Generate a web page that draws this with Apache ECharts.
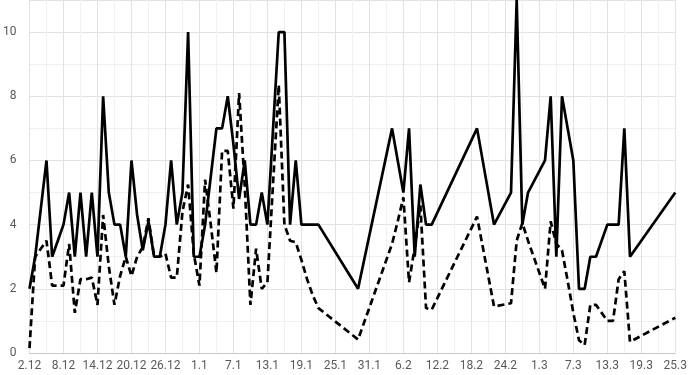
<!DOCTYPE html>
<html>
<head>
<meta charset="utf-8">
<script src="https://cdn.jsdelivr.net/npm/echarts@6/dist/echarts.min.js"></script>
<style>
html,body{margin:0;padding:0;background:#fff;}
#chart{width:690px;height:375px;}
</style>
</head>
<body>
<div id="chart"></div>
<script>
// dates as day.month (Dec 2019 – Mar 2020)
const dates = ['2.12','3.12','4.12','5.12','6.12','7.12','8.12','9.12','10.12','11.12',
  '12.12','13.12','14.12','15.12','16.12','17.12','18.12','19.12','20.12','21.12',
  '22.12','23.12','24.12','25.12','26.12','27.12','28.12','29.12','30.12','31.12',
  '1.1','2.1','3.1','4.1','5.1','6.1','7.1','8.1','9.1','10.1',
  '11.1','12.1','13.1','14.1','15.1','16.1','17.1','18.1','19.1','20.1',
  '21.1','22.1','29.1',
  '4.2','5.2','6.2','7.2','8.2','9.2','10.2','11.2','19.2','22.2',
  '25.2','26.2','27.2','28.2',
  '2.3','3.3','4.3','5.3','6.3','7.3','8.3','9.3','10.3','11.3',
  '13.3','14.3','15.3','16.3','17.3','25.3'];

const solidValues = [2,3,4.5,6,3,3.5,4,5,3,5,
  3,5,3,8,5,4,4,3,6,4.3,
  3.2,4.1,3,3,4,6,4,5,10,3,
  3,4,5.5,7,7,8,6.5,4.8,6,4,
  4,5,4,7,10,10,4,6,4,4,
  4,4,2,
  7,6,5,7,3,5.25,4,4,7,4,
  5,11,4,5,
  6,8,3,8,7,6,2,2,3,3,
  4,4,4,7,3,5];

const dashedValues = [0.15,3.0,3.25,3.5,2.1,2.1,2.1,3.4,1.25,2.3,
  2.3,2.35,1.5,4.3,2.7,1.5,2.4,3.0,2.4,3.0,
  3.3,4.2,3.0,3.0,3.1,2.35,2.35,4.4,5.25,3.1,
  2.1,5.4,4.0,2.5,6.3,6.3,4.5,8.1,5.2,1.5,
  3.25,2.0,2.2,5.3,8.35,4.0,3.5,3.45,2.9,2.3,
  1.8,1.4,0.42,
  3.4,4.1,4.85,2.2,3.3,4.6,1.4,1.35,4.25,1.45,
  1.55,3.5,4.05,3.5,
  2.0,4.1,3.4,3.2,2.25,1.25,0.4,0.25,1.5,1.5,
  1.0,1.0,2.3,2.55,0.35,1.1];

const START = Date.UTC(2019, 11, 2);
function dayIndex(s) {
  const [d, m] = s.split('.').map(Number);
  const y = m === 12 ? 2019 : 2020;
  return (Date.UTC(y, m - 1, d) - START) / 864e5;
}
function dayLabel(v) {
  const dt = new Date(START + v * 864e5);
  return dt.getUTCDate() + '.' + (dt.getUTCMonth() + 1);
}
const xs = dates.map(dayIndex);
const solidData = xs.map((x, i) => [x, solidValues[i]]);
const dashedData = xs.map((x, i) => [x, dashedValues[i]]);

const chart = echarts.init(document.getElementById('chart'), null, {renderer: 'canvas'});
const font = 'Roboto, "Liberation Sans", sans-serif';
chart.setOption({
  animation: false,
  backgroundColor: '#ffffff',
  grid: {left: 25, right: 12, top: 0, bottom: 22, containLabel: false},
  xAxis: {
    type: 'value', min: 0, max: 114, interval: 6,
    axisLine: {show: true, lineStyle: {color: '#c8c8c8', width: 1}},
    axisTick: {show: false},
    axisLabel: {color: '#595959', fontSize: 12, fontFamily: font, margin: 7,
      formatter: v => dayLabel(v)},
    splitLine: {show: true, lineStyle: {color: '#e2e2e2', width: 1}},
    minorTick: {show: false, splitNumber: 2},
    minorSplitLine: {show: true, lineStyle: {color: '#f0f0f0', width: 1}}
  },
  yAxis: {
    type: 'value', min: 0, max: 11, interval: 2,
    axisLine: {show: false},
    axisTick: {show: false},
    axisLabel: {color: '#595959', fontSize: 12, fontFamily: font, margin: 13,
      showMaxLabel: false, formatter: v => (v % 2 === 0 ? String(v) : '')},
    splitLine: {show: true, lineStyle: {color: '#e2e2e2', width: 1}},
    minorTick: {show: false, splitNumber: 2},
    minorSplitLine: {show: true, lineStyle: {color: '#f0f0f0', width: 1}}
  },
  series: [
    {type: 'line', data: solidData, showSymbol: false, symbol: 'none',
      lineStyle: {color: '#000000', width: 2.7, type: 'solid'}, z: 3},
    {type: 'line', data: dashedData, showSymbol: false, symbol: 'none',
      lineStyle: {color: '#000000', width: 2.7, type: [7, 4]}, z: 2}
  ]
});
</script>
</body>
</html>
